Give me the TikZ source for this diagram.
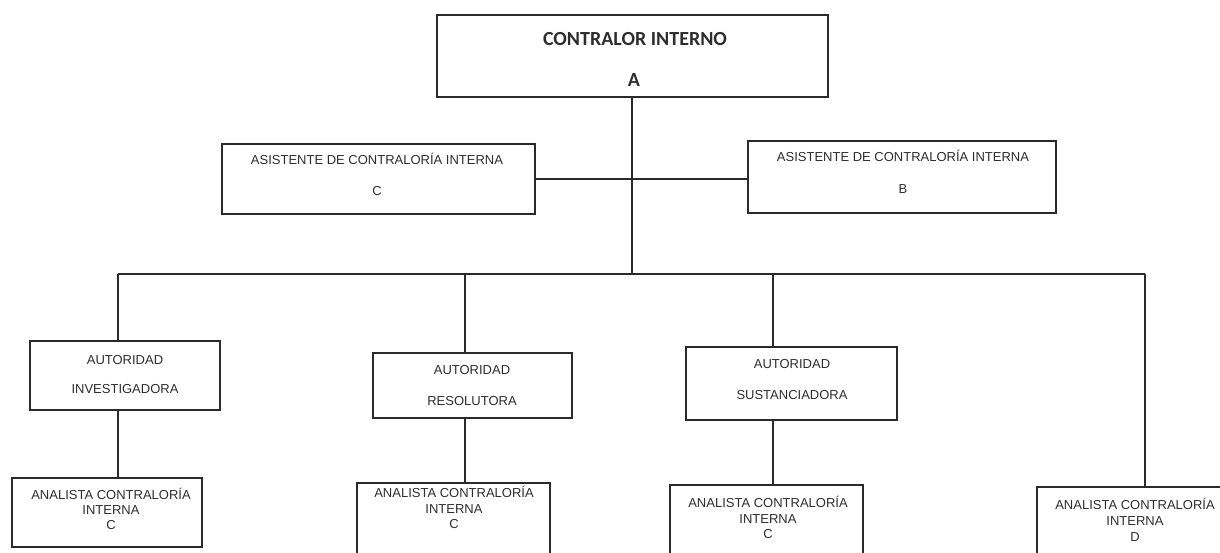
\documentclass[tikz,border=0pt]{standalone}
\usepackage{fontspec}
\setmainfont{Liberation Sans}
\newfontfamily\titlefont{Carlito}
\definecolor{ink}{HTML}{2A2A2A}
\definecolor{txt}{HTML}{2E2E2E}
\begin{document}
\begin{tikzpicture}[x=1pt,y=-1pt,
  box/.style={draw=ink,line width=1.9pt,inner sep=0pt,outer sep=0pt,rectangle},
  conn/.style={draw=ink,line width=1.9pt},
  lbl/.style={anchor=base,inner sep=0pt,text=txt,font=\fontsize{13}{15}\selectfont},
  ttl/.style={anchor=base,inner sep=0pt,text=txt,font=\titlefont\bfseries\fontsize{20}{24}\selectfont}]
\useasboundingbox (0,0) rectangle (1220,552);
\clip (0,0) rectangle (1220,552);
\fill[white] (0,0) rectangle (1220,552);

% boxes
\node[box,minimum width=391pt,minimum height=82pt] (top) at (632.5,56) {};
\node[box,minimum width=313pt,minimum height=70pt] (ac) at (378.5,179) {};
\node[box,minimum width=308pt,minimum height=72pt] (ab) at (902,177) {};
\node[box,minimum width=190pt,minimum height=69pt] (inv) at (125,375.5) {};
\node[box,minimum width=199pt,minimum height=65pt] (res) at (472.5,385.5) {};
\node[box,minimum width=211pt,minimum height=73pt] (sus) at (791.5,383.5) {};
\node[box,minimum width=190pt,minimum height=69pt] (an1) at (107,512.5) {};
\node[box,minimum width=193pt,minimum height=87pt] (an2) at (453.5,526.5) {};
\node[box,minimum width=193pt,minimum height=85pt] (an3) at (766.5,527.5) {};
\node[box,minimum width=203pt,minimum height=83pt] (anD) at (1138.5,528.5) {};

% connectors
\coordinate (bl) at (118,274);
\coordinate (br) at (1145,274);
\coordinate (bm) at (632,274);
\coordinate (b2) at (465,274);
\coordinate (b3) at (773,274);
\draw[conn] (top.south -| bm) -- (bm);
\draw[conn] (bl) -- (br);
\draw[conn] (ac.east) -- (ab.west |- ac.east);
\draw[conn] (bl) -- (inv.north -| bl);
\draw[conn] (inv.south -| bl) -- (an1.north -| bl);
\draw[conn] (b2) -- (res.north -| b2);
\draw[conn] (res.south -| b2) -- (an2.north -| b2);
\draw[conn] (b3) -- (sus.north -| b3);
\draw[conn] (sus.south -| b3) -- (an3.north -| b3);
\draw[conn] (br) -- (anD.north -| br);

% texts
\node[ttl] (t0a) at (635,45) {CONTRALOR INTERNO};
\node[ttl] (t0b) at (634,86.5) {A};
\node[lbl] (t1a) at (377,164.5) {ASISTENTE DE CONTRALORÍA INTERNA};
\node[lbl] (t1b) at (377,195.5) {C};
\node[lbl] (t2a) at (903,161.5) {ASISTENTE DE CONTRALORÍA INTERNA};
\node[lbl] (t2b) at (903,193.5) {B};
\node[lbl] (t3a) at (125,364.5) {AUTORIDAD};
\node[lbl] (t3b) at (125,393.5) {INVESTIGADORA};
\node[lbl] (t4a) at (472,374.5) {AUTORIDAD};
\node[lbl] (t4b) at (472,405.5) {RESOLUTORA};
\node[lbl] (t5a) at (792,368.5) {AUTORIDAD};
\node[lbl] (t5b) at (792,399.5) {SUSTANCIADORA};
\node[lbl] (t6a) at (111,499.5) {ANALISTA CONTRALORÍA};
\node[lbl] (t6b) at (111,514.5) {INTERNA};
\node[lbl] (t6c) at (111,529.5) {C};
\node[lbl] (t7a) at (454,497.5) {ANALISTA CONTRALORÍA};
\node[lbl] (t7b) at (454,513.5) {INTERNA};
\node[lbl] (t7c) at (454,528.5) {C};
\node[lbl] (t8a) at (768,507.5) {ANALISTA CONTRALORÍA};
\node[lbl] (t8b) at (768,523.5) {INTERNA};
\node[lbl] (t8c) at (768,538.5) {C};
\node[lbl] (t9a) at (1135,509.5) {ANALISTA CONTRALORÍA};
\node[lbl] (t9b) at (1135,525.5) {INTERNA};
\node[lbl] (t9c) at (1135,541.5) {D};
\end{tikzpicture}
\end{document}
